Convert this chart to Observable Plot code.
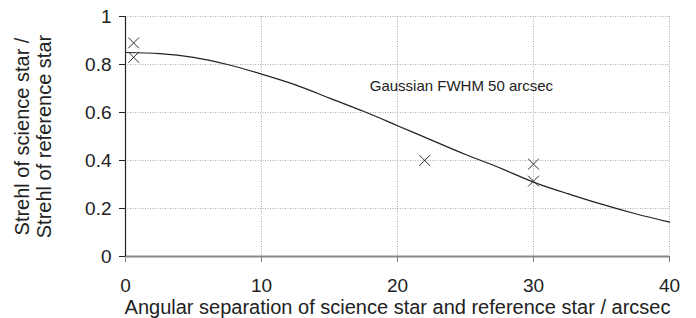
<!DOCTYPE html>
<html>
<head>
<meta charset="utf-8">
<script src="https://cdn.jsdelivr.net/npm/d3@7"></script>
<script src="https://cdn.jsdelivr.net/npm/@observablehq/plot@0.6"></script>
<style>
  html, body { margin: 0; padding: 0; background: #fff; }
  #chart svg { display: block; }
</style>
</head>
<body>
<div id="chart"></div>
<script>
// Curve (angular separation in arcsec, Strehl ratio)
const curveX = [0, 2.5, 5, 7.5, 10, 12.5, 15, 17.5, 20, 22.5, 25, 27.5, 30, 32.5, 35, 37.5, 40];
const curveY = [0.85, 0.845, 0.83, 0.80, 0.76, 0.715, 0.66, 0.605, 0.545, 0.485, 0.425, 0.37, 0.31, 0.262, 0.218, 0.178, 0.143];

// Measured points (crosses)
const pointX = [0.6, 0.6, 22, 30, 30];
const pointY = [0.89, 0.83, 0.40, 0.385, 0.314];

// Tick values
const xTicks = [0, 10, 20, 30, 40];
const yTicks = [0, 0.2, 0.4, 0.6, 0.8, 1];
const yTickLabels = ["0", "0.2", "0.4", "0.6", "0.8", "1"];

// Annotation
const noteText = ["Gaussian FWHM 50 arcsec"];
const noteX = [24.7];
const noteY = [0.71];

const xTitle = "Angular separation of science star and reference star / arcsec";
const yTitle = "Strehl of science star /\nStrehl of reference star";

const curve = curveX.map((x, i) => ({x, y: curveY[i]}));
const points = pointX.map((x, i) => ({x, y: pointY[i]}));
const note = noteText.map((t, i) => ({t, x: noteX[i], y: noteY[i]}));

const font = "Liberation Sans, Arial, Helvetica, sans-serif";

const chart = Plot.plot({
  width: 696,
  height: 318,
  marginLeft: 125,
  marginRight: 27,
  marginTop: 16,
  marginBottom: 62,
  style: {fontFamily: font, fontSize: "19px", color: "#222", background: "#fff"},
  x: {domain: [0, 40]},
  y: {domain: [0, 1]},
  marks: [
    Plot.gridX(xTicks.filter(d => d > 0), {stroke: "#aaa", strokeOpacity: 1, strokeDasharray: "1,1.5", strokeWidth: 1}),
    Plot.gridY(yTicks.filter(d => d > 0), {stroke: "#aaa", strokeOpacity: 1, strokeDasharray: "1,1.5", strokeWidth: 1}),
    Plot.axisX(xTicks, {tickSize: 6, tickPadding: 16, stroke: "#777", fill: "#222", fontSize: 19, label: null}),
    Plot.axisY(yTicks, {tickSize: 6, tickPadding: 8, stroke: "#222", fill: "#222", fontSize: 19, label: null,
      tickFormat: (d) => yTickLabels[yTicks.indexOf(d)]}),
    Plot.ruleY([0], {stroke: "#888", strokeWidth: 2}),
    Plot.ruleX([0], {stroke: "#222", strokeWidth: 1.2}),
    Plot.line(curve, {x: "x", y: "y", curve: "natural", stroke: "#222", strokeWidth: 1.2}),
    Plot.dot(points, {x: "x", y: "y", symbol: "times", r: 5, stroke: "#333", strokeWidth: 1}),
    Plot.text(note, {x: "x", y: "y", text: "t", fontSize: 15, fill: "#222"}),
    Plot.text([xTitle], {frameAnchor: "bottom", dy: 51.5, text: d => d, fontSize: 20, fill: "#222", lineAnchor: "middle"}),
    Plot.text([yTitle], {frameAnchor: "left", dx: -93, rotate: -90, text: d => d, fontSize: 20, fill: "#222", textAnchor: "middle", lineHeight: 1.1, lineAnchor: "middle"})
  ]
});
document.getElementById("chart").appendChild(chart);
</script>
</body>
</html>
